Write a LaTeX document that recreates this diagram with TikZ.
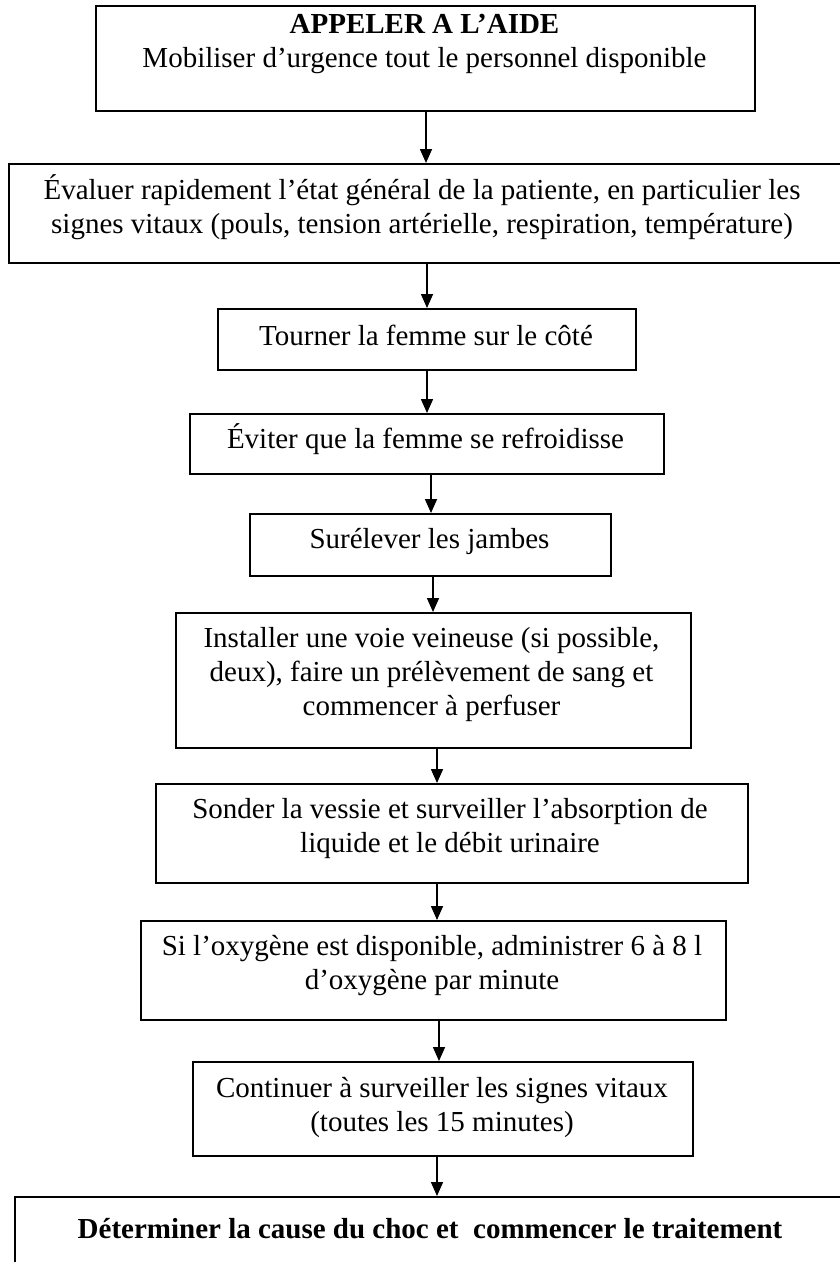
\documentclass[tikz,border=0pt]{standalone}
\usepackage{fontspec}
\setmainfont{Liberation Serif}
\usetikzlibrary{arrows.meta}
\begin{document}
\begin{tikzpicture}[x=1pt,y=-1pt,
  box/.style={draw, line width=1.6pt, rectangle, inner sep=0pt, anchor=north west},
  txt/.style={font=\fontsize{29}{34}\selectfont, align=center, inner sep=0pt, anchor=base},
  arr/.style={line width=1.6pt, -{Triangle[width=12pt,length=14pt]}}]
\useasboundingbox (0,0) rectangle (840,1262);
% boxes
\node[box, minimum width=659, minimum height=105] (b1) at (95,5) {};
\node[box, minimum width=840, minimum height=99] (b2) at (8,163) {};
\node[box, minimum width=418, minimum height=61] (b3) at (217,308) {};
\node[box, minimum width=474, minimum height=60] (b4) at (189,413) {};
\node[box, minimum width=361, minimum height=62] (b5) at (249,513) {};
\node[box, minimum width=515, minimum height=135] (b6) at (175,612) {};
\node[box, minimum width=592, minimum height=99] (b7) at (155,783) {};
\node[box, minimum width=585, minimum height=99] (b8) at (140,920) {};
\node[box, minimum width=500, minimum height=94] (b9) at (192,1061) {};
\node[box, minimum width=840, minimum height=120] (b10) at (14,1196) {};
% texts (anchor = baseline of the last line)
\node[txt] (t1) at (424.5,67) {\textbf{APPELER A L’AIDE}\\Mobiliser d’urgence tout le personnel disponible};
\node[txt] (t2) at (422,233) {Évaluer rapidement l’état général de la patiente, en particulier les\\signes vitaux (pouls, tension artérielle, respiration, température)};
\node[txt] (t3) at (426,345) {Tourner la femme sur le côté};
\node[txt] (t4) at (425.5,448) {Éviter que la femme se refroidisse};
\node[txt] (t5) at (429.5,548) {Surélever les jambes};
\node[txt] (t6) at (431.5,715) {Installer une voie veineuse (si possible,\\deux), faire un prélèvement de sang et\\commencer à perfuser};
\node[txt] (t7) at (450,852) {Sonder la vessie et surveiller l’absorption de\\liquide et le débit urinaire};
\node[txt] (t8) at (432,989) {Si l’oxygène est disponible, administrer 6 à 8 l\\d’oxygène par minute};
\node[txt] (t9) at (442,1131) {Continuer à surveiller les signes vitaux\\(toutes les 15 minutes)};
\node[txt] (t10) at (430,1238) {\textbf{Déterminer la cause du choc et~ commencer le traitement}};
% arrow columns
\coordinate (c1) at (426,0);
\coordinate (c2) at (427,0);
\coordinate (c3) at (427,0);
\coordinate (c4) at (431,0);
\coordinate (c5) at (433,0);
\coordinate (c6) at (437,0);
\coordinate (c7) at (437,0);
\coordinate (c8) at (439,0);
\coordinate (c9) at (437,0);
\draw[arr] (b1.south -| c1) -- (b2.north -| c1);
\draw[arr] (b2.south -| c2) -- (b3.north -| c2);
\draw[arr] (b3.south -| c3) -- (b4.north -| c3);
\draw[arr] (b4.south -| c4) -- (b5.north -| c4);
\draw[arr] (b5.south -| c5) -- (b6.north -| c5);
\draw[arr] (b6.south -| c6) -- (b7.north -| c6);
\draw[arr] (b7.south -| c7) -- (b8.north -| c7);
\draw[arr] (b8.south -| c8) -- (b9.north -| c8);
\draw[arr] (b9.south -| c9) -- (b10.north -| c9);
\end{tikzpicture}
\end{document}
